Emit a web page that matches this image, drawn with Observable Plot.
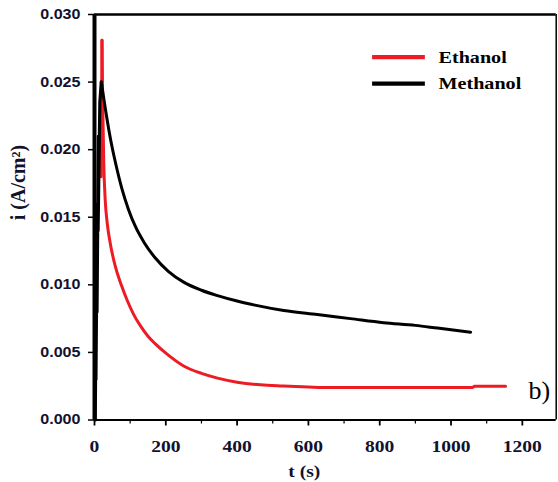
<!DOCTYPE html>
<html>
<head>
<meta charset="utf-8">
<script src="https://cdn.jsdelivr.net/npm/d3@7"></script>
<script src="https://cdn.jsdelivr.net/npm/@observablehq/plot@0.6"></script>
<style>
  html, body { margin: 0; padding: 0; background: #fff; }
</style>
</head>
<body>
<div id="chart"></div>
<script>
// Chronoamperometry: current density vs time
const seriesNames = ["Ethanol", "Methanol"];
const seriesColors = ["#ed1c24", "#000000"];

const ethanolT = [19, 21, 23, 26, 30, 36, 44, 58, 75, 91, 110, 128, 150, 170, 207, 250, 300, 345, 400, 466, 530, 600, 640, 700, 800, 900, 1000, 1060, 1066, 1153];
const ethanolI = [0.018, 0.0281, 0.0235, 0.0190, 0.0163, 0.0145, 0.0131, 0.0114, 0.0100, 0.0089, 0.0078, 0.0070, 0.0062, 0.00565, 0.0048, 0.0040, 0.00345, 0.0031, 0.0028, 0.0026, 0.00252, 0.00245, 0.0024, 0.0024, 0.0024, 0.0024, 0.0024, 0.0024, 0.0025, 0.0025];

const methanolT = [2, 5, 4, 8, 7, 11, 10, 15, 19, 30, 40, 50, 60, 77, 95, 115, 140, 170, 207, 250, 300, 345, 400, 450, 531, 625, 718, 811, 900, 962, 1055];
const methanolI = [0.0, 0.010, 0.003, 0.016, 0.008, 0.021, 0.014, 0.0235, 0.025, 0.0231, 0.0215, 0.0201, 0.0189, 0.0171, 0.0156, 0.0143, 0.0131, 0.0120, 0.0110, 0.0102, 0.0096, 0.0092, 0.0088, 0.0085, 0.0081, 0.0078, 0.0075, 0.0072, 0.0070, 0.0068, 0.0065];

const xTicks = [0, 200, 400, 600, 800, 1000, 1200];
const xMinorTicks = [100, 300, 500, 700, 900, 1100];
const yTicks = [0, 0.005, 0.010, 0.015, 0.020, 0.025, 0.030];

const ethanol = ethanolT.map((t, k) => ({t, i: ethanolI[k]}));
const methanol = methanolT.map((t, k) => ({t, i: methanolI[k]}));

// the switch-on transient is drawn straight, the decay as a smooth curve
const ethanolPeak = ethanolI.indexOf(d3.max(ethanolI));
const methanolPeak = methanolI.indexOf(d3.max(methanolI));

const ink = "#12122e";
const serif = "Liberation Serif, Times New Roman, serif";
const sans = "Liberation Sans, Arial, sans-serif";
const xMax = 1295;

const chart = Plot.plot({
  width: 558,
  height: 482,
  marginLeft: 94,
  marginRight: 2.3,
  marginTop: 14,
  marginBottom: 62.5,
  style: {background: "white", fontFamily: serif, color: "#000"},
  x: {domain: [0, xMax]},
  y: {domain: [0, 0.030]},
  marks: [
    // Ethanol
    Plot.line(ethanol.slice(0, ethanolPeak + 1), {x: "t", y: "i", stroke: seriesColors[0], strokeWidth: 3}),
    Plot.line(ethanol.slice(ethanolPeak), {x: "t", y: "i", stroke: seriesColors[0], strokeWidth: 3, curve: "monotone-x"}),
    // Methanol
    Plot.line(methanol.slice(0, methanolPeak + 1), {x: "t", y: "i", stroke: seriesColors[1], strokeWidth: 3.2}),
    Plot.line(methanol.slice(methanolPeak), {x: "t", y: "i", stroke: seriesColors[1], strokeWidth: 3, curve: "monotone-x"}),

    // frame
    Plot.ruleX([0], {stroke: "#000", strokeWidth: 4}),
    Plot.ruleY([0], {stroke: "#000", strokeWidth: 2}),
    Plot.ruleY([0.030], {stroke: "#000", strokeWidth: 2.5}),
    Plot.ruleX([xMax], {stroke: "#000", strokeWidth: 1.5}),

    // axes
    Plot.axisY({
      ticks: yTicks, tickFormat: d3.format(".3f"), tickSize: 6, tickPadding: 8,
      label: null, fontSize: 14, fontWeight: "bold", fontFamily: sans,
      fill: ink, stroke: "#000", strokeWidth: 1.5
    }),
    Plot.axisX({
      ticks: xTicks, tickFormat: d3.format("d"), tickSize: 6, tickPadding: 14,
      label: null, fontSize: 17, fontWeight: "bold", fontFamily: serif,
      fill: ink, stroke: "#000", strokeWidth: 1.8
    }),
    Plot.axisX({ticks: xMinorTicks, tickSize: 4, text: null, label: null, stroke: "#000", strokeWidth: 1.2}),

    // axis titles
    Plot.text(["t (s)"], {frameAnchor: "bottom", dx: -21, dy: 57, lineAnchor: "bottom",
      fontSize: 17, fontWeight: "bold", fontFamily: serif, fill: ink, className: "wide-mid"}),
    Plot.text(["i (A/cm²)"], {frameAnchor: "left", dx: -76, dy: 3, rotate: -90,
      fontSize: 20, fontWeight: "bold", fontFamily: serif, fill: ink}),

    // legend
    Plot.ruleY(seriesNames, {y: (d, k) => 0.02684 - k * 0.00195, x1: 780, x2: 928,
      stroke: (d, k) => seriesColors[k], strokeWidth: 4.3}),
    Plot.text(seriesNames, {x: 965, y: (d, k) => 0.02684 - k * 0.00195, text: d => d,
      textAnchor: "start", fontSize: 17.5, fontWeight: "bold", fontFamily: serif, fill: "#000", className: "wide-start"}),

    // panel tag
    Plot.text(["b)"], {frameAnchor: "bottom-right", textAnchor: "start", lineAnchor: "bottom",
      dx: -27.7, dy: -21.5, fontSize: 26, fontFamily: serif, fill: "#000"})
  ]
});

document.getElementById("chart").appendChild(chart);

// widen the lettering horizontally
function widen(selection, k) {
  selection.each(function () {
    const tr = this.getAttribute("transform") || "";
    this.setAttribute("transform", (tr + ` scale(${k},1)`).trim());
  });
}
const svg = d3.select(chart);
widen(svg.selectAll('g[aria-label="y-axis tick label"] text'), 1.15);
widen(svg.selectAll('g[aria-label="x-axis tick label"] text'), 1.15);
widen(svg.selectAll('g.wide-mid text, g.wide-start text'), 1.15);
</script>
</body>
</html>
